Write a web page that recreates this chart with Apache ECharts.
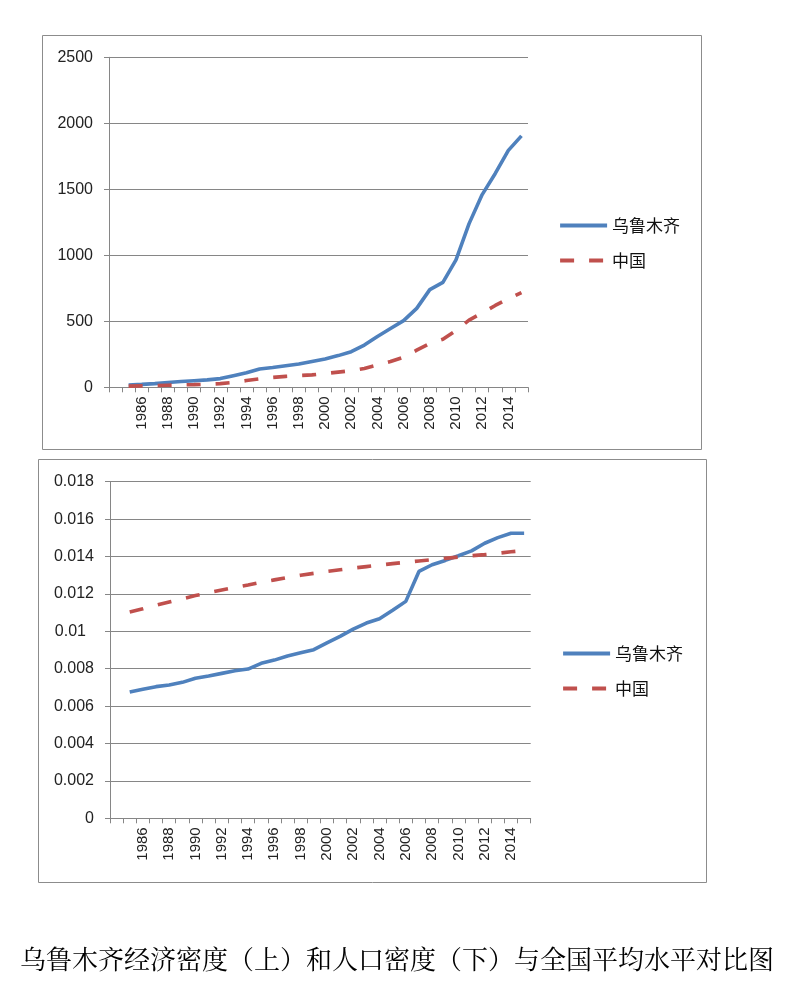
<!DOCTYPE html>
<html>
<head>
<meta charset="utf-8">
<script src="https://cdn.jsdelivr.net/npm/echarts@6/dist/echarts.min.js"></script>
<style>
html,body{margin:0;padding:0;background:#fff;}
#c{width:794px;height:982px;}
</style>
</head>
<body>
<div id="c"></div>
<script>
// Category labels (first slot is empty, as in the source sheet)
const categories = ['', '1985','1986','1987','1988','1989','1990','1991','1992','1993','1994','1995','1996','1997','1998','1999','2000','2001','2002','2003','2004','2005','2006','2007','2008','2009','2010','2011','2012','2013','2014','2015'];

// Top chart: economic density
const urumqiGdpDensity = [17,22,28,36,44,50,56,66,88,110,138,150,163,176,196,215,240,270,320,385,445,505,598,740,795,965,1240,1460,1620,1795,1905];
const chinaGdpDensity  = [9,11,13,16,18,20,23,28,37,51,64,75,83,89,94,104,115,126,143,169,195,228,281,332,364,430,509,563,620,671,718];

// Bottom chart: population density
const urumqiPopDensity = [0.00675,0.00690,0.00704,0.00713,0.00727,0.00749,0.00761,0.00775,0.00789,0.00798,0.00829,0.00846,0.00868,0.00885,0.00902,0.00938,0.00973,0.01012,0.01044,0.01067,0.01112,0.01160,0.01320,0.01356,0.01379,0.01404,0.01430,0.01471,0.01501,0.01524,0.01524];
const chinaPopDensity  = [0.01103,0.01120,0.01139,0.01157,0.01174,0.01191,0.01206,0.01221,0.01235,0.01248,0.01262,0.01275,0.01288,0.01300,0.01310,0.01320,0.01329,0.01338,0.01346,0.01354,0.01362,0.01369,0.01376,0.01383,0.01390,0.01397,0.01404,0.01410,0.01417,0.01425,0.01432];

const seriesNames = ['乌鲁木齐', '中国'];
const topTicks = {min: 0, max: 2500, interval: 500};
const bottomTicks = {min: 0, max: 0.018, interval: 0.002};
const caption = '乌鲁木齐经济密度（上）和人口密度（下）与全国平均水平对比图';

const BLUE = '#4F81BD', RED = '#C0504D', GRID = '#868686';
const numFont = 'Liberation Sans, Arial, sans-serif';
const cjkFont = 'Noto Sans CJK SC, sans-serif';

const withBlank = arr => [null].concat(arr);

function xAxis(gridIndex) {
  return {
    type: 'category', gridIndex, data: categories, boundaryGap: true,
    axisLine: {show: true, lineStyle: {color: GRID, width: 1}},
    axisTick: {show: true, interval: 0, length: 5, lineStyle: {color: GRID}},
    axisLabel: {interval: 1, rotate: 90, margin: 9, fontSize: 15, color: '#222', fontFamily: numFont},
    splitLine: {show: false}
  };
}
function yAxis(gridIndex, ticks, fmt) {
  return {
    type: 'value', gridIndex, min: ticks.min, max: ticks.max, interval: ticks.interval,
    axisLine: {show: true, lineStyle: {color: GRID, width: 1}},
    axisTick: {show: true, length: 5, lineStyle: {color: GRID}},
    axisLabel: {margin: 16, fontSize: 16, color: '#222', fontFamily: numFont, formatter: fmt,
      rich: {p: {fontSize: 16, color: '#222', fontFamily: numFont, padding: [0, 8, 0, 0]}}},
    splitLine: {show: true, lineStyle: {color: GRID, width: 1}}
  };
}
function lineSeries(name, color, dashed, xi, data) {
  return {
    type: 'line', name, xAxisIndex: xi, yAxisIndex: xi, data: withBlank(data),
    symbol: 'none', showSymbol: false, smooth: false, connectNulls: false,
    lineStyle: {color, width: 3.6, type: dashed ? [14, 15] : 'solid', cap: 'butt'},
    itemStyle: {color},
    emphasis: {disabled: true}, animation: false
  };
}
function legend(left, top) {
  return {
    orient: 'vertical', left, top, data: seriesNames,
    itemWidth: 47, itemHeight: 14, itemGap: 18, selectedMode: false,
    itemStyle: {opacity: 0, borderWidth: 0},
    lineStyle: {width: 4.2},
    textStyle: {fontSize: 17, color: '#111', fontFamily: cjkFont}
  };
}

const chart = echarts.init(document.getElementById('c'), null, {renderer: 'canvas'});
chart.setOption({
  backgroundColor: '#fff',
  animation: false,
  title: {
    text: caption, left: 'center', top: 941,
    textStyle: {fontSize: 26, fontWeight: 'normal', color: '#000', fontFamily: 'Noto Serif CJK SC, ' + cjkFont}
  },
  graphic: [
    {type: 'rect', shape: {x: 42.5, y: 35.5, width: 659, height: 414}, style: {fill: 'none', stroke: '#8c8c8c', lineWidth: 1}, z: -1},
    {type: 'rect', shape: {x: 38.5, y: 459.5, width: 668, height: 423}, style: {fill: 'none', stroke: '#8c8c8c', lineWidth: 1}, z: -1}
  ],
  legend: [legend(553, 212), legend(556, 640)],
  grid: [
    {left: 109, right: 266, top: 57.3, bottom: 594.7},
    {left: 110, right: 263.3, top: 481.7, bottom: 163.7}
  ],
  xAxis: [xAxis(0), xAxis(1)],
  yAxis: [
    yAxis(0, topTicks, v => String(v)),
    yAxis(1, bottomTicks, v => {
      const s = String(parseFloat(v.toFixed(4)));
      return s === '0.01' ? '{p|0.01}' : s;
    })
  ],
  series: [
    lineSeries(seriesNames[0], BLUE, false, 0, urumqiGdpDensity),
    lineSeries(seriesNames[1], RED, true, 0, chinaGdpDensity),
    lineSeries(seriesNames[0], BLUE, false, 1, urumqiPopDensity),
    lineSeries(seriesNames[1], RED, true, 1, chinaPopDensity)
  ]
});
</script>
</body>
</html>
